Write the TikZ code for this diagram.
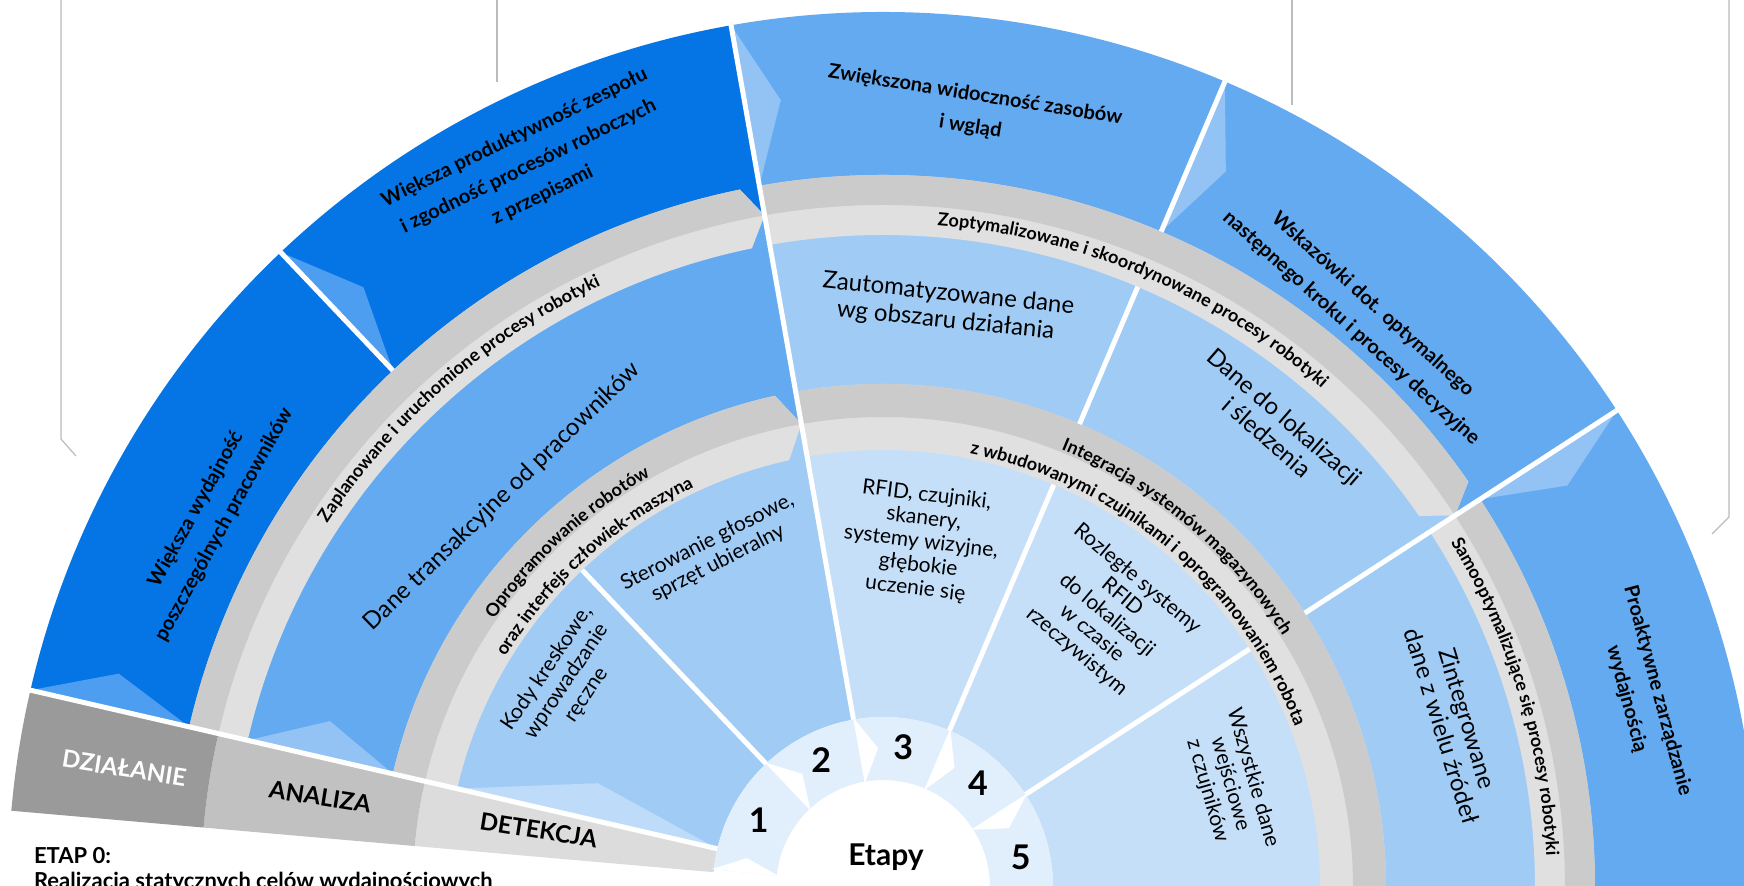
\documentclass[tikz,border=0pt]{standalone}
\usepackage{fontspec}
\setmainfont{Lato}
\usetikzlibrary{decorations.text}

\definecolor{darkblue}{HTML}{0575E6}
\definecolor{darkblueTri}{HTML}{4D9EF0}
\definecolor{midblue}{HTML}{64AAF0}
\definecolor{midblueTri}{HTML}{93C3F5}
\definecolor{lightblue}{HTML}{A0CBF5}
\definecolor{lightblueTri}{HTML}{BEDCFA}
\definecolor{paleblue}{HTML}{C5DFF8}
\definecolor{ringblue}{HTML}{E1EFFC}
\definecolor{banddark}{HTML}{CBCBCB}
\definecolor{bandlight}{HTML}{E0E0E0}
\definecolor{labeldark}{HTML}{9A9A9A}
\definecolor{labelmid}{HTML}{C1C1C1}
\definecolor{labellight}{HTML}{DCDCDC}
\definecolor{leader}{HTML}{BBBBBB}

\newcommand{\bandfont}{\bfseries\fontsize{9}{10}\selectfont}
\newcommand{\ringsector}[5]{\fill[fill=#1] (#2:#5) arc[start angle=#2, end angle=#3, radius=#5] -- (#3:#4) arc[start angle=#3, end angle=#2, radius=#4] -- cycle;}
\newcommand{\lightnotch}[5]{\fill[fill=#1] (#2:#4) -- ({#2-#5}:{(#3+#4)/2}) -- (#2:#3) -- cycle;}
\newcommand{\greyband}[6]{%
  \fill[bandlight] (#1:#5) arc[start angle=#1, end angle={#2+#6}, radius=#5] -- (#2:#4) -- ({#2+#6}:#3) arc[start angle={#2+#6}, end angle=#1, radius=#3] -- cycle;
  \fill[banddark] (#1:#5) arc[start angle=#1, end angle={#2+#6}, radius=#5] -- (#2:#4) arc[start angle=#2, end angle=#1, radius=#4] -- cycle;}

\tikzset{
  sepline/.style={white, line width=2.5pt},
  leaderline/.style={leader, line width=0.6pt},
  bandtext/.style={decorate, decoration={text along path, text align=center, text={|\bandfont|#1}}},
  wedgelabel/.style={font=\bfseries\fontsize{12}{13}\selectfont, rotate=-9},
  outerlabel/.style={font=\bfseries\fontsize{10}{16}\selectfont, align=center},
  midlabel/.style={font=\fontsize{12}{13.5}\selectfont, align=center},
  innerlabel/.style={font=\fontsize{10.5}{11.8}\selectfont, align=center},
  stagenum/.style={font=\bfseries\fontsize{17}{18}\selectfont},
  etaptext/.style={font=\bfseries\fontsize{11}{12}\selectfont, anchor=base west}
}

\begin{document}
\begin{tikzpicture}[x=0.5pt, y=0.5pt]
  \useasboundingbox (-883,2) rectangle (861,887);
  \clip (-883,2) rectangle (861,887);
  \fill[white] (-883,2) rectangle (861,887);

  \draw[leaderline] (-822,887) -- (-822,448) -- (-807,431);
  \draw[leaderline] (-386,887) -- (-386,805);
  \draw[leaderline] (409,887) -- (409,782);
  \draw[leaderline] (846,887) -- (846,370) -- (829,353);

  \ringsector{labellight}{175}{167}{170}{470}
  \ringsector{labelmid}{175}{167}{470}{682}
  \ringsector{labeldark}{175}{167}{682}{875}

  \ringsector{darkblue}{167}{100}{682}{875}
  \ringsector{midblue}{100}{-5}{682}{875}
  \ringsector{midblue}{167}{100}{470}{682}
  \ringsector{lightblue}{100}{-5}{470}{682}
  \ringsector{lightblue}{167}{100}{170}{470}
  \ringsector{paleblue}{100}{-5}{170}{470}

  \foreach \a/\c in {167/darkblueTri,133.5/darkblueTri,100/midblueTri,67/midblueTri,33/midblueTri}
    {\lightnotch{\c}{\a}{712}{875}{2.6}}
  \lightnotch{midblueTri}{167}{503}{652}{3.7}
  \lightnotch{lightblueTri}{167}{170}{437}{7}

  \greyband{167}{100}{652}{682}{712}{1.6}
  \greyband{167}{100}{437}{470}{503}{2.4}
  \greyband{100}{33}{652}{682}{712}{1.7}
  \greyband{100}{-5}{437}{470}{503}{2.4}
  \greyband{33}{-5}{652}{682}{712}{1.7}

  \ringsector{ringblue}{174}{-5}{107}{170}
  \foreach \a/\d in {174/6,133.5/8,100/8,67/8,33/8}
    \fill[white] (\a:172) -- ({\a-\d}:139) -- (\a:105) -- cycle;

  \foreach \a in {167,100}
    \draw[sepline] (\a:170) -- (\a:877);
  \draw[sepline] (133.5:170) -- (133.5:437) (133.5:712) -- (133.5:877);
  \draw[sepline] (67:170) -- (67:437) (67:503) -- (67:652) (67:712) -- (67:877);
  \draw[sepline] (33:170) -- (33:437) (33:503) -- (33:877);

  \path[bandtext={Zaplanowane i uruchomione procesy robotyki}] (171:664) arc[start angle=171, end angle=91, radius=664];
  \path[bandtext={Oprogramowanie robotów}] (172.5:472) arc[start angle=172.5, end angle=92.5, radius=472];
  \path[bandtext={oraz interfejs człowiek-maszyna}] (172:442) arc[start angle=172, end angle=92, radius=442];
  \path[bandtext={Zoptymalizowane i skoordynowane procesy robotyki}] (107:664) arc[start angle=107, end angle=27, radius=664];
  \path[bandtext={Integracja systemów magazynowych}] (95:472) arc[start angle=95, end angle=5, radius=472];
  \path[bandtext={z wbudowanymi czujnikami i oprogramowaniem robota}] (95:442) arc[start angle=95, end angle=5, radius=442];
  \path[bandtext={Samooptymalizujące się procesy robotyki}] (52:664) arc[start angle=52, end angle=-18, radius=664];

  \node[wedgelabel, text=white] (dzialanie) at (171.1:768) {DZIAŁANIE};
  \node[wedgelabel] (analiza) at (170.9:570) {ANALIZA};
  \node[wedgelabel] (detekcja) at (170.6:349) {DETEKCJA};

  \node[outerlabel, rotate=61] (out1) at (151.2:768) {Większa wydajność\\poszczególnych pracowników};
  \node[outerlabel, rotate=26] (out2) at (116.2:803) {Większa produktywność zespołu\\i zgodność procesów roboczych\\z przepisami};
  \node[outerlabel, rotate=-9] (out3) at (83.4:781) {Zwiększona widoczność zasobów\\i wgląd};
  \node[outerlabel, rotate=-42] (out4) at (50:745) {Wskazówki dot. optymalnego\\następnego kroku i procesy decyzyjne};
  \node[outerlabel, rotate=-75] (out5) at (14.2:783) {Proaktywne zarządzanie\\wydajnością};

  \node[midlabel, rotate=44] (mid12) at (134.3:545) {Dane transakcyjne od pracowników};
  \node[midlabel, rotate=-6] (mid3) at (83.7:583) {Zautomatyzowane dane\\wg obszaru działania};
  \node[midlabel, rotate=-41] (mid4) at (49.5:605) {Dane do lokalizacji\\i śledzenia};
  \node[midlabel, rotate=-73] (mid5) at (16.1:595) {Zintegrowane\\dane z wielu źródeł};

  \node[innerlabel, rotate=56] (in1) at (147:377) {Kody kreskowe,\\wprowadzanie\\ręczne};
  \node[innerlabel, rotate=27] (in2) at (117:375) {Sterowanie głosowe,\\sprzęt ubieralny};
  \node[innerlabel, rotate=-7] (in3) at (83.7:347) {RFID, czujniki,\\skanery,\\systemy wizyjne,\\głębokie\\uczenie się};
  \node[innerlabel, rotate=-40] (in4) at (50.5:352) {Rozległe systemy\\RFID\\do lokalizacji\\w czasie\\rzeczywistym};
  \node[innerlabel, rotate=-74] (in5) at (16.5:362) {Wszystkie dane\\wejściowe\\z czujników};

  \foreach \n/\a in {1/151.8,2/116,3/81.8,4/47.6,5/12.2}
    \node[stagenum] (n\n) at (\a:141) {\n};
  \node[font=\bfseries\fontsize{15}{16}\selectfont] (etapy) at (3,30) {Etapy};

  \node[etaptext] (etap) at (-856,24) {ETAP 0:};
  \node[etaptext] (etapdesc) at (-856,-1) {Realizacja statycznych celów wydajnościowych};
\end{tikzpicture}
\end{document}
